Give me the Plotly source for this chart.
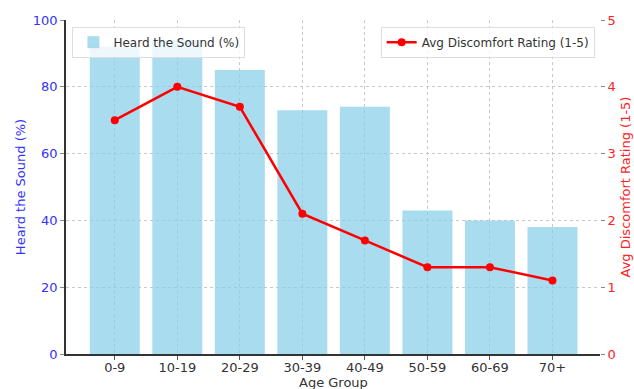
import plotly.graph_objects as go

age_groups = ["0-9", "10-19", "20-29", "30-39", "40-49", "50-59", "60-69", "70+"]
heard_pct = [92, 94, 85, 73, 74, 43, 40, 38]
discomfort = [3.5, 4.0, 3.7, 2.1, 1.7, 1.3, 1.3, 1.1]

FONT = "DejaVu Sans"

fig = go.Figure()
fig.add_trace(go.Bar(
    x=age_groups, y=heard_pct, name="Heard the Sound (%)",
    marker=dict(color="#87CEEB", line=dict(width=0)), opacity=0.7, width=0.8,
    legend="legend", yaxis="y",
))
fig.add_trace(go.Scatter(
    x=age_groups, y=discomfort, name="Avg Discomfort Rating (1-5)",
    mode="lines+markers", line=dict(color="#FF0000", width=2.5),
    marker=dict(color="#FF0000", size=8), yaxis="y2", legend="legend2",
))

fig.update_layout(
    width=634, height=389,
    margin=dict(l=66, r=34, t=20, b=35, autoexpand=False),
    paper_bgcolor="white", plot_bgcolor="white",
    font=dict(family=FONT, size=12, color="#333333"),
    xaxis=dict(
        type="category", range=[-0.78, 7.76],
        showline=True, linecolor="#333333", linewidth=1.5,
        ticks="outside", ticklen=4, tickcolor="#555555",
        ticklabelstandoff=-3,
        showgrid=True, gridcolor="#C8C8C8", griddash="dot", gridwidth=1,
        tickfont=dict(size=13, color="#333333"),
        automargin=False,
    ),
    yaxis=dict(
        range=[0, 100], tickvals=[0, 20, 40, 60, 80, 100],
        showline=True, linecolor="#333333", linewidth=1.5,
        ticks="outside", ticklen=4, tickcolor="#888888",
        showgrid=True, gridcolor="#C8C8C8", griddash="dot", gridwidth=1,
        zeroline=False,
        tickfont=dict(size=13, color="#3333FF"),
        title=dict(text="Heard the Sound (%)", font=dict(size=13, color="#3333FF"), standoff=4),
        automargin=False,
    ),
    yaxis2=dict(
        range=[0, 5], tickvals=[0, 1, 2, 3, 4, 5],
        overlaying="y", side="right",
        showline=False, showgrid=False, zeroline=False,
        ticks="outside", ticklen=4, tickcolor="#888888",
        tickfont=dict(size=13, color="#FF2222"),
        title=dict(text="Avg Discomfort Rating (1-5)", font=dict(size=13, color="#FF2222"), standoff=6),
        automargin=False,
    ),
    legend=dict(
        x=0.012, y=0.98, xanchor="left", yanchor="top",
        bgcolor="rgba(255,255,255,0.8)", bordercolor="#DDDDDD", borderwidth=1,
        font=dict(size=12, color="#333333"),
    ),
    legend2=dict(
        x=0.99, y=0.98, xanchor="right", yanchor="top",
        bgcolor="rgba(255,255,255,0.8)", bordercolor="#DDDDDD", borderwidth=1,
        font=dict(size=12, color="#333333"),
    ),
    showlegend=True,
    annotations=[dict(
        text="Age Group", xref="paper", yref="paper", x=0.5, y=-0.084,
        xanchor="center", yanchor="middle", showarrow=False,
        font=dict(size=13, color="#333333"),
    )],
)

fig.write_html(
    "out.html",
    config={"displayModeBar": False},
    post_script="document.body.style.margin='0';document.body.style.overflow='hidden';",
)
